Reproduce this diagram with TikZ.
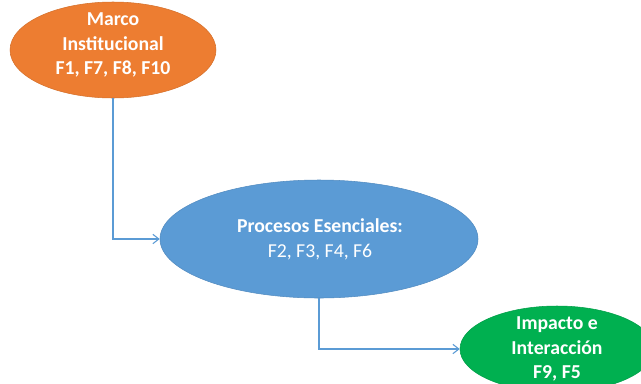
\documentclass[tikz,border=0pt]{standalone}
\usepackage{fontspec}
\setmainfont{Carlito}
\usetikzlibrary{shapes.geometric,arrows.meta}
\definecolor{orangeF}{HTML}{ED7D31}
\definecolor{blueF}{HTML}{5B9BD5}
\definecolor{greenF}{HTML}{00B050}
\definecolor{connC}{HTML}{5B9BD5}
\tikzset{
  oval/.style={ellipse, inner sep=0pt, draw=#1!90!black, line width=0.4pt, fill=#1},
  lbl/.style={text=white, align=center, font=\fontsize{14.8}{18.5}\selectfont\bfseries},
  conn/.style={draw=connC, line width=0.8pt, -{Straight Barb[length=4.5pt,width=7pt]}}
}
\begin{document}
\begin{tikzpicture}[x=0.75pt,y=-0.75pt]
\useasboundingbox (0,0) rectangle (641,383);
\clip (0,0) rectangle (641,383);
\node[oval=orangeF, minimum width=206pt*0.75, minimum height=96pt*0.75] (m) at (113,50) {};
\node[lbl] (mt) at (113,45) {Marco\\Institucional\\F1, F7, F8, F10};
\node[oval=blueF, minimum width=318pt*0.75, minimum height=118pt*0.75] (p) at (319,239) {};
\node[lbl] (pt) at (320,239) {Procesos Esenciales:\\\mdseries F2, F3, F4, F6};
\node[oval=greenF, minimum width=194pt*0.75, minimum height=86pt*0.75] (i) at (557,349) {};
\node[lbl] (it) at (557,349) {Impacto e\\Interacción\\F9, F5};
\draw[conn] (m.south) |- (p.west);
\draw[conn] (p.south) |- (i.west);
\end{tikzpicture}
\end{document}
